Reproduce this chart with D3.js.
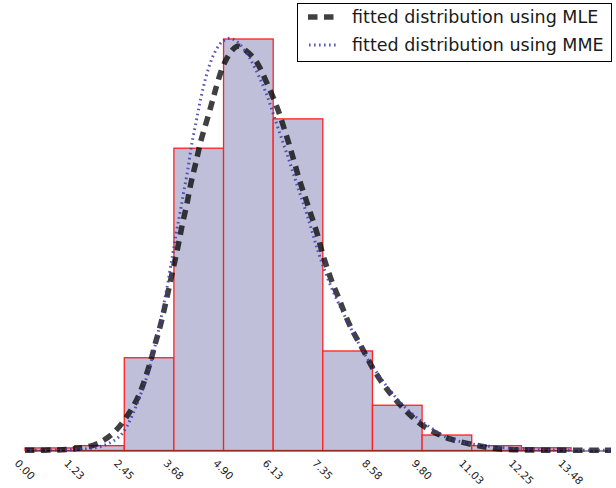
<!DOCTYPE html>
<html>
<head>
<meta charset="utf-8">
<script src="https://cdnjs.cloudflare.com/ajax/libs/d3/7.8.5/d3.min.js"></script>
<style>
  html, body { margin: 0; padding: 0; background: #fff; }
  svg { display: block; }
</style>
</head>
<body>
<svg id="chart" width="616" height="488"></svg>
<script>
// ---- data ----
const binWidth = 1.225;
const binEdges = [0, 1.225, 2.45, 3.675, 4.9, 6.125, 7.35, 8.575, 9.8, 11.025, 12.25, 13.475];
const binDensity = [0.0016, 0.0030, 0.0576, 0.1877, 0.2555, 0.2059, 0.0618, 0.0281, 0.0096, 0.0030, 0.0017];
const tickLabels = ["0.00","1.23","2.45","3.68","4.90","6.13","7.35","8.58","9.80","11.03","12.25","13.48"];

const mleX = [0, 0.617, 1.111, 1.276, 1.646, 1.974, 2.263, 2.510, 2.697, 2.880, 3.127, 3.208, 3.314, 3.413, 3.497, 3.578, 3.660, 3.744, 3.825, 3.892, 3.991, 4.055, 4.139, 4.237, 4.319, 4.442, 4.608, 4.689, 4.854, 5.042, 5.225, 5.348, 5.676, 5.842, 6.004, 6.170, 6.293, 6.417, 6.540, 6.745, 6.868, 6.992, 7.115, 7.238, 7.322, 7.446, 7.569, 7.732, 7.855, 8.021, 8.186, 8.391, 8.556, 8.761, 9.008, 9.255, 9.543, 9.830, 10.143, 10.471, 10.884, 11.296, 11.666, 12.118, 13.204, 14.462];
const mleY = [0.0001, 0.0002, 0.0006, 0.0014, 0.0024, 0.0065, 0.0124, 0.0208, 0.0283, 0.0376, 0.0573, 0.0661, 0.0748, 0.0848, 0.0945, 0.1038, 0.1135, 0.1228, 0.1328, 0.1421, 0.1518, 0.1613, 0.1711, 0.1804, 0.1908, 0.2009, 0.2152, 0.2231, 0.2375, 0.2468, 0.2518, 0.2506, 0.2437, 0.2355, 0.2262, 0.2166, 0.2083, 0.1980, 0.1887, 0.1700, 0.1607, 0.1514, 0.1421, 0.1328, 0.1235, 0.1142, 0.1048, 0.0955, 0.0873, 0.0769, 0.0697, 0.0604, 0.0520, 0.0438, 0.0355, 0.0283, 0.0210, 0.0148, 0.0107, 0.0070, 0.0045, 0.0024, 0.0009, 0.0003, 0.0001, 0.0001];

const mmeX = [0, 0.864, 1.357, 1.770, 2.098, 2.345, 2.517, 2.665, 2.813, 2.961, 3.073, 3.166, 3.265, 3.349, 3.430, 3.512, 3.578, 3.645, 3.702, 3.759, 3.843, 3.907, 3.991, 4.055, 4.114, 4.195, 4.277, 4.400, 4.524, 4.647, 4.812, 4.936, 5.059, 5.225, 5.387, 5.553, 5.718, 5.881, 5.997, 6.128, 6.293, 6.459, 6.621, 6.787, 6.952, 7.115, 7.280, 7.527, 7.774, 8.021, 8.268, 8.514, 8.926, 9.336, 9.830, 10.118, 10.308, 10.718, 11.130, 11.542, 11.952, 12.463, 13.204, 14.462];
const mmeY = [0.0001, 0.0002, 0.0007, 0.0014, 0.0045, 0.0084, 0.0146, 0.0227, 0.0320, 0.0419, 0.0512, 0.0604, 0.0707, 0.0810, 0.0914, 0.1017, 0.1121, 0.1214, 0.1305, 0.1390, 0.1494, 0.1597, 0.1700, 0.1804, 0.1908, 0.2003, 0.2115, 0.2259, 0.2375, 0.2458, 0.2531, 0.2551, 0.2565, 0.2543, 0.2500, 0.2437, 0.2355, 0.2264, 0.2189, 0.2090, 0.1965, 0.1847, 0.1721, 0.1593, 0.1473, 0.1332, 0.1195, 0.1028, 0.0893, 0.0769, 0.0645, 0.0542, 0.0396, 0.0272, 0.0169, 0.0127, 0.0086, 0.0055, 0.0034, 0.0024, 0.0014, 0.0006, 0.0002, 0.0001];

const legendLabels = ["fitted distribution using MLE", "fitted distribution using MME"];

// ---- scales ----
const svg = d3.select("#chart");
const x = d3.scaleLinear().domain([0, 13.475]).range([25, 571]);
const y = d3.scaleLinear().domain([0, 0.2555]).range([450.5, 39]);

// ---- bars ----
const bins = binDensity.map((d, i) => ({ x0: binEdges[i], x1: binEdges[i] + binWidth, v: d }));
svg.append("g").selectAll("rect").data(bins).join("rect")
  .attr("x", d => x(d.x0))
  .attr("y", d => y(d.v))
  .attr("width", d => x(d.x1) - x(d.x0))
  .attr("height", d => y(0) - y(d.v))
  .attr("fill", "#bfbfd9")
  .attr("stroke", "#ff2020")
  .attr("stroke-width", 1.3);

// baseline spine
svg.append("line")
  .attr("x1", x(0)).attr("x2", x(14.462))
  .attr("y1", y(0) + 0.5).attr("y2", y(0) + 0.5)
  .attr("stroke", "#333").attr("stroke-width", 1.2);

// ---- curves ----
const line = d3.line().x(d => x(d[0])).y(d => y(d[1])).curve(d3.curveBasis);
const mle = mleX.map((v, i) => [v, mleY[i]]);
const mme = mmeX.map((v, i) => [v, mmeY[i]]);

svg.append("path").datum(mle)
  .attr("d", line)
  .attr("fill", "none")
  .attr("stroke", "#000")
  .attr("stroke-opacity", 0.75)
  .attr("stroke-width", 5.5)
  .attr("stroke-dasharray", "9.5,6.5");

svg.append("path").datum(mme)
  .attr("d", line)
  .attr("fill", "none")
  .attr("stroke", "#3c3caa")
  .attr("stroke-opacity", 0.85)
  .attr("stroke-width", 3)
  .attr("stroke-dasharray", "1.6,3.4");

// ---- tick labels ----
const tg = svg.append("g");
tickLabels.forEach((lab, i) => {
  const t = tg.append("text")
    .text(lab)
    .attr("font-family", "DejaVu Sans")
    .attr("font-size", 10.5)
    .attr("fill", "#1a1a1a")
    .attr("text-anchor", "middle")
    .attr("dominant-baseline", "central");
  const L = t.node().getComputedTextLength();
  const cy = 458.5 + (L + 7.5) * 0.3536;
  t.attr("transform", `translate(${x(i * binWidth)},${cy}) rotate(45)`);
});

// ---- legend ----
const lg = svg.append("g");
lg.append("rect")
  .attr("x", 297.5).attr("y", 3.5).attr("width", 314).attr("height", 58)
  .attr("fill", "#fff").attr("stroke", "#000").attr("stroke-width", 1);
lg.append("line")
  .attr("x1", 308).attr("x2", 336).attr("y1", 17).attr("y2", 17)
  .attr("stroke", "#000").attr("stroke-opacity", 0.75)
  .attr("stroke-width", 5.5).attr("stroke-dasharray", "9.5,6.5");
lg.append("line")
  .attr("x1", 309).attr("x2", 336).attr("y1", 45).attr("y2", 45)
  .attr("stroke", "#3c3caa").attr("stroke-opacity", 0.85)
  .attr("stroke-width", 3).attr("stroke-dasharray", "1.6,3.4");
legendLabels.forEach((lab, i) => {
  lg.append("text")
    .text(lab)
    .attr("x", 352).attr("y", 17 + i * 28)
    .attr("dominant-baseline", "central")
    .attr("font-family", "DejaVu Sans")
    .attr("font-size", 17.5)
    .attr("fill", "#1a1a1a");
});
</script>
</body>
</html>
